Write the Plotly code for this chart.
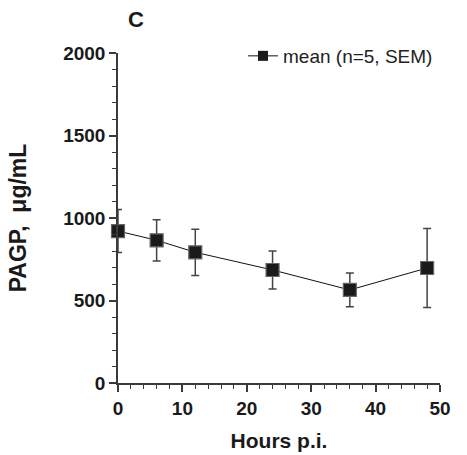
import plotly.graph_objects as go

hours = [0, 6, 12, 24, 36, 48]
mean_pagp = [921, 865, 792, 685, 564, 697]
sem_pagp = [130, 125, 140, 115, 102, 240]

x_ticks = [0, 10, 20, 30, 40, 50]
y_ticks = [0, 500, 1000, 1500, 2000]

axis_color = "#3a3a3a"
font_family = "Liberation Sans, Arial, sans-serif"

fig = go.Figure()
fig.add_trace(go.Scatter(
    x=hours, y=mean_pagp,
    mode="lines+markers",
    name="mean (n=5, SEM)",
    showlegend=False,
    line=dict(color="#111111", width=1),
    marker=dict(symbol="square", size=13, color="#1a1a1a",
                line=dict(color="#666666", width=1.2)),
    error_y=dict(type="data", array=sem_pagp, visible=True,
                 color="#444444", thickness=1.5, width=4),
    cliponaxis=False,
))
# legend entry (smaller symbol as in the reference)
fig.add_trace(go.Scatter(
    x=[None], y=[None], mode="lines+markers", name="mean (n=5, SEM)",
    line=dict(color="#111111", width=1),
    marker=dict(symbol="square", size=10, color="#1a1a1a"),
    showlegend=True,
))

fig.update_layout(
    width=467, height=455,
    margin=dict(l=118, r=27, t=53, b=72),
    paper_bgcolor="white", plot_bgcolor="white",
    font=dict(family=font_family, color="#111111"),
    showlegend=True,
    legend=dict(x=(243 - 118) / 322, y=1 - (56 - 53) / 330, xanchor="left", yanchor="middle",
                bgcolor="rgba(0,0,0,0)", font=dict(size=19, color="#222222"),
                itemwidth=30),
    xaxis=dict(
        range=[0, 50], tickvals=x_ticks, ticktext=[str(v) for v in x_ticks],
        automargin=False,
        showline=True, linecolor=axis_color, linewidth=1.5,
        ticks="outside", ticklen=7, tickwidth=1.5, tickcolor=axis_color,
        minor=dict(dtick=2, ticks="outside", ticklen=4, tickwidth=1.2, tickcolor=axis_color),
        showgrid=False, zeroline=False,
        tickfont=dict(size=19, family=font_family, color="#1a1a1a", weight="bold"),
        title=dict(text="<b>Hours p.i.</b>", font=dict(size=21, family=font_family, color="#1a1a1a"),
                   standoff=16),
    ),
    yaxis=dict(
        range=[0, 2000], tickvals=y_ticks, ticktext=[str(v) for v in y_ticks],
        automargin=False,
        showline=True, linecolor=axis_color, linewidth=1.5,
        ticks="outside", ticklen=7, tickwidth=1.5, tickcolor=axis_color,
        minor=dict(dtick=100, ticks="outside", ticklen=4, tickwidth=1.2, tickcolor=axis_color),
        showgrid=False, zeroline=False,
        tickfont=dict(size=19, family=font_family, color="#1a1a1a", weight="bold"),
        title=dict(text="<b>PAGP,  μg/mL</b>", font=dict(size=23, family=font_family, color="#1a1a1a"),
                   standoff=30),
    ),
    annotations=[dict(text="<b>C</b>", xref="paper", yref="paper",
                      x=(136 - 118) / 322, y=1 + (53 - 20) / 330,
                      xanchor="center", yanchor="middle",
                      showarrow=False, font=dict(size=22, family=font_family, color="#1a1a1a"))],
)

fig.write_html("out.html")
